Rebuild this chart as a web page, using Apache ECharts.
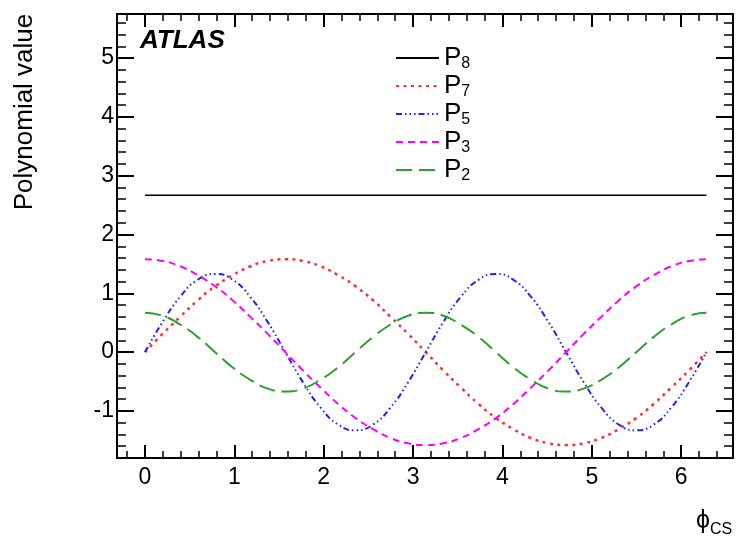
<!DOCTYPE html>
<html><head><meta charset="utf-8">
<script src="https://cdn.jsdelivr.net/npm/echarts@6/dist/echarts.min.js"></script>
<style>html,body{margin:0;padding:0;background:#fff}#c{width:738px;height:536px}</style>
</head><body><div id="c"></div>
<script>
var phi = [0,0.196,0.393,0.589,0.785,0.982,1.178,1.374,1.571,1.767,1.963,2.160,2.356,2.553,2.749,2.945,3.142,3.338,3.534,3.731,3.927,4.123,4.320,4.516,4.712,4.909,5.105,5.301,5.498,5.694,5.890,6.087,6.283];
var p8 = [2.67,2.67,2.67,2.67,2.67,2.67,2.67,2.67,2.67,2.67,2.67,2.67,2.67,2.67,2.67,2.67,2.67,2.67,2.67,2.67,2.67,2.67,2.67,2.67,2.67,2.67,2.67,2.67,2.67,2.67,2.67,2.67,2.67];
var p7 = [0,0.31,0.60,0.88,1.12,1.31,1.46,1.55,1.58,1.55,1.46,1.31,1.12,0.88,0.60,0.31,0,-0.31,-0.60,-0.88,-1.12,-1.31,-1.46,-1.55,-1.58,-1.55,-1.46,-1.31,-1.12,-0.88,-0.60,-0.31,0];
var p5 = [0,0.51,0.94,1.23,1.33,1.23,0.94,0.51,0,-0.51,-0.94,-1.23,-1.33,-1.23,-0.94,-0.51,0,0.51,0.94,1.23,1.33,1.23,0.94,0.51,0,-0.51,-0.94,-1.23,-1.33,-1.23,-0.94,-0.51,0];
var p3 = [1.58,1.55,1.46,1.31,1.12,0.88,0.60,0.31,0,-0.31,-0.60,-0.88,-1.12,-1.31,-1.46,-1.55,-1.58,-1.55,-1.46,-1.31,-1.12,-0.88,-0.60,-0.31,0,0.31,0.60,0.88,1.12,1.31,1.46,1.55,1.58];
var p2 = [0.67,0.62,0.47,0.26,0,-0.26,-0.47,-0.62,-0.67,-0.62,-0.47,-0.26,0,0.26,0.47,0.62,0.67,0.62,0.47,0.26,0,-0.26,-0.47,-0.62,-0.67,-0.62,-0.47,-0.26,0,0.26,0.47,0.62,0.67];
var names = ['P8','P7','P5','P3','P2'];
var subs = {'P8':'8','P7':'7','P5':'5','P3':'3','P2':'2'};

function pairs(ys){ return phi.map(function(x,i){return [x, ys[i]];}); }

var FONT = 'Liberation Sans';
var chart = echarts.init(document.getElementById('c'), null, {renderer:'canvas'});
function axisX(pos, showLabel){
  return {type:'value', position:pos, min:-0.313, max:6.58, splitNumber:7,
    axisLine:{show:true, onZero:false, lineStyle:{color:'#000', width:2}},
    axisTick:{show:true, inside:true, length:13, lineStyle:{color:'#000', width:2}},
    minorTick:{show:true, splitNumber:5, length:7, lineStyle:{color:'#000', width:1.5}},
    splitLine:{show:false},
    axisLabel:{show:showLabel, showMinLabel:false, showMaxLabel:false, color:'#000', fontFamily:FONT, fontSize:23, margin:8}
  };
}
function axisY(pos, showLabel){
  return {type:'value', position:pos, min:-1.8, max:5.75, splitNumber:8,
    axisLine:{show:true, onZero:false, lineStyle:{color:'#000', width:2}},
    axisTick:{show:true, inside:true, length:17, lineStyle:{color:'#000', width:2}},
    minorTick:{show:true, splitNumber:5, length:9, lineStyle:{color:'#000', width:1.5}},
    splitLine:{show:false},
    axisLabel:{show:showLabel, showMinLabel:false, showMaxLabel:false, color:'#000', fontFamily:FONT, fontSize:23, margin:3}
  };
}
var styles = [
  {color:'#000000', type:'solid', width:1.5},
  {color:'#ff3030', type:[3,4.5], width:2.5},
  {color:'#2020ff', type:[6,3,1.5,3,1.5,3,1.5,3], width:2},
  {color:'#ff00ff', type:[7,5], width:2},
  {color:'#2ca02c', type:[16,7], width:2}
];
var datas = [p8,p7,p5,p3,p2];
var series = names.map(function(n,i){
  return {name:n, type:'line', xAxisIndex:0, yAxisIndex:0, data:pairs(datas[i]), smooth:true,
    showSymbol:false, symbol:'none', lineStyle:styles[i], itemStyle:{color:styles[i].color}, animation:false, z:3};
});

chart.setOption({
  animation:false,
  grid:{left:117, top:14, right:5, bottom:78, containLabel:false},
  xAxis:[axisX('bottom', true), axisX('top', false)],
  yAxis:[axisY('left', true), axisY('right', false)],
  legend:{show:true, orient:'vertical', left:390, top:39, itemWidth:43, itemHeight:14, itemGap:0,
    itemStyle:{opacity:0},
    data:names,
    formatter:function(n){ return '{p|P}{s|' + subs[n] + '}'; },
    textStyle:{fontFamily:FONT, fontSize:26, color:'#000', lineHeight:27,
      rich:{p:{fontFamily:FONT, fontSize:26, lineHeight:27, color:'#000'},
            s:{fontFamily:FONT, fontSize:16, lineHeight:12, color:'#000', padding:[12,0,0,0]}}}
  },
  graphic:[
    {type:'text', x:140, y:28, style:{text:'ATLAS', fontFamily:FONT, fontSize:26, fontWeight:'bold', fontStyle:'italic', fill:'#000'}},
    {type:'text', x:25, y:112, rotation:Math.PI/2, style:{text:'Polynomial value', fontFamily:FONT, fontSize:26, fill:'#000', align:'center', verticalAlign:'middle'}},
    {type:'text', x:696, y:504, style:{text:'{a|ϕ}{b|CS}', fill:'#000',
      rich:{a:{fontFamily:FONT, fontSize:25, fill:'#000'}, b:{fontFamily:FONT, fontSize:16, padding:[18,0,0,0], fill:'#000'}}}}
  ],
  series:series
});
</script></body></html>
